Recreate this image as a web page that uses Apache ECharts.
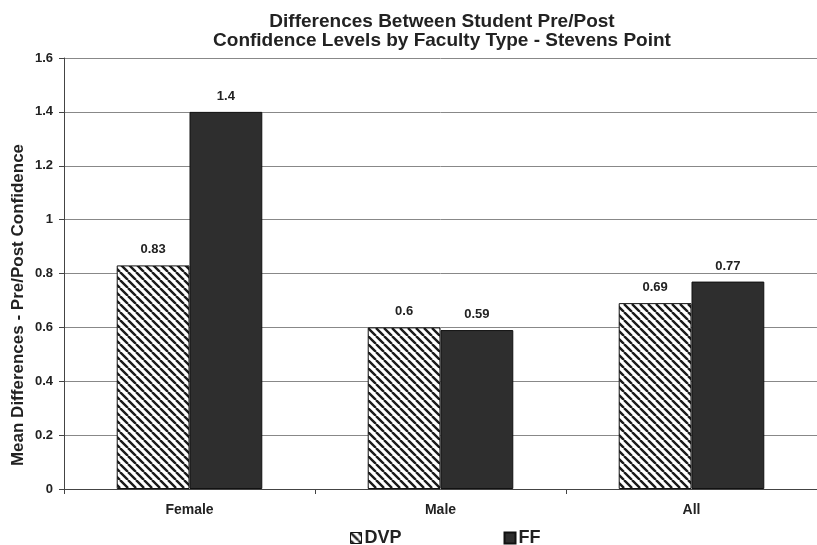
<!DOCTYPE html>
<html><head><meta charset="utf-8">
<script src="https://cdn.jsdelivr.net/npm/echarts@6/dist/echarts.min.js"></script>
<style>html,body{margin:0;padding:0;background:#fff}#c{width:817px;height:545px}</style>
</head><body><div id="c"></div>
<script>
const categories = ['Female', 'Male', 'All'];
const dvpValues = [0.83, 0.6, 0.69];
const ffValues = [1.4, 0.59, 0.77];
const yTicks = [0, 0.2, 0.4, 0.6, 0.8, 1, 1.2, 1.4, 1.6];

function hatch() {
  const s = 8;
  const c = document.createElement('canvas');
  c.width = s; c.height = s;
  const g = c.getContext('2d');
  g.fillStyle = '#fff'; g.fillRect(0, 0, s, s);
  g.strokeStyle = '#1a1a1a'; g.lineWidth = 2.4;
  g.beginPath();
  for (let k = -1; k <= 1; k++) {
    g.moveTo(k * s, 0); g.lineTo(k * s + s, s);
  }
  g.stroke();
  return c;
}
const pat = { image: hatch(), repeat: 'repeat' };
const font = 'Liberation Sans, Arial, sans-serif';
const chart = echarts.init(document.getElementById('c'));
chart.setOption({
  animation: false,
  textStyle: { fontFamily: font },
  title: {
    text: 'Differences Between Student Pre/Post\nConfidence Levels by Faculty Type - Stevens Point',
    left: 437, top: 7, textAlign: 'center',
    textStyle: { fontSize: 19, fontWeight: 'bold', color: '#222', lineHeight: 19, fontFamily: font }
  },
  graphic: [{
    type: 'text', x: 18, y: 305, rotation: Math.PI / 2,
    style: { text: 'Mean Differences - Pre/Post Confidence', font: 'bold 17px Liberation Sans, Arial, sans-serif',
      fill: '#222', textAlign: 'center', textVerticalAlign: 'middle' }
  }],
  legend: {
    left: 345, top: 524, itemGap: 102, itemWidth: 11, itemHeight: 11, icon: 'rect',
    textStyle: { fontSize: 18, fontWeight: 'bold', color: '#222', fontFamily: font, padding: [0, 0, 0, -2] },
    data: [
      { name: 'DVP', itemStyle: { color: pat, borderColor: '#111', borderWidth: 1 } },
      { name: 'FF', itemStyle: { color: '#2e2e2e' } }
    ]
  },
  grid: { left: 64, right: 0, top: 58, bottom: 56 },
  xAxis: {
    type: 'category', data: categories,
    axisLine: { lineStyle: { color: '#444' } },
    axisTick: { show: true, length: 5, lineStyle: { color: '#444' } },
    axisLabel: { fontSize: 14, fontWeight: 'bold', color: '#222', margin: 14 }
  },
  yAxis: {
    type: 'value', min: 0, max: 1.6, interval: 0.2,
    axisLine: { show: true, lineStyle: { color: '#444' } },
    axisTick: { show: true, length: 5, lineStyle: { color: '#444' } },
    axisLabel: { fontSize: 13, fontWeight: 'bold', color: '#222', margin: 11,
      formatter: v => { const t = yTicks.find(x => Math.abs(x - v) < 1e-9); return String(t); } },
    splitLine: { lineStyle: { color: '#888', width: 1 } }
  },
  series: [
    { name: 'DVP', type: 'bar', data: dvpValues, barGap: '0%', barCategoryGap: '42%',
      itemStyle: { color: pat, borderColor: '#111', borderWidth: 1 },
      label: { show: true, position: 'top', distance: 9, fontSize: 13, fontWeight: 'bold', color: '#222' } },
    { name: 'FF', type: 'bar', data: ffValues,
      itemStyle: { color: '#2e2e2e', borderColor: '#111', borderWidth: 1 },
      label: { show: true, position: 'top', distance: 9, fontSize: 13, fontWeight: 'bold', color: '#222' } }
  ]
});
</script></body></html>
